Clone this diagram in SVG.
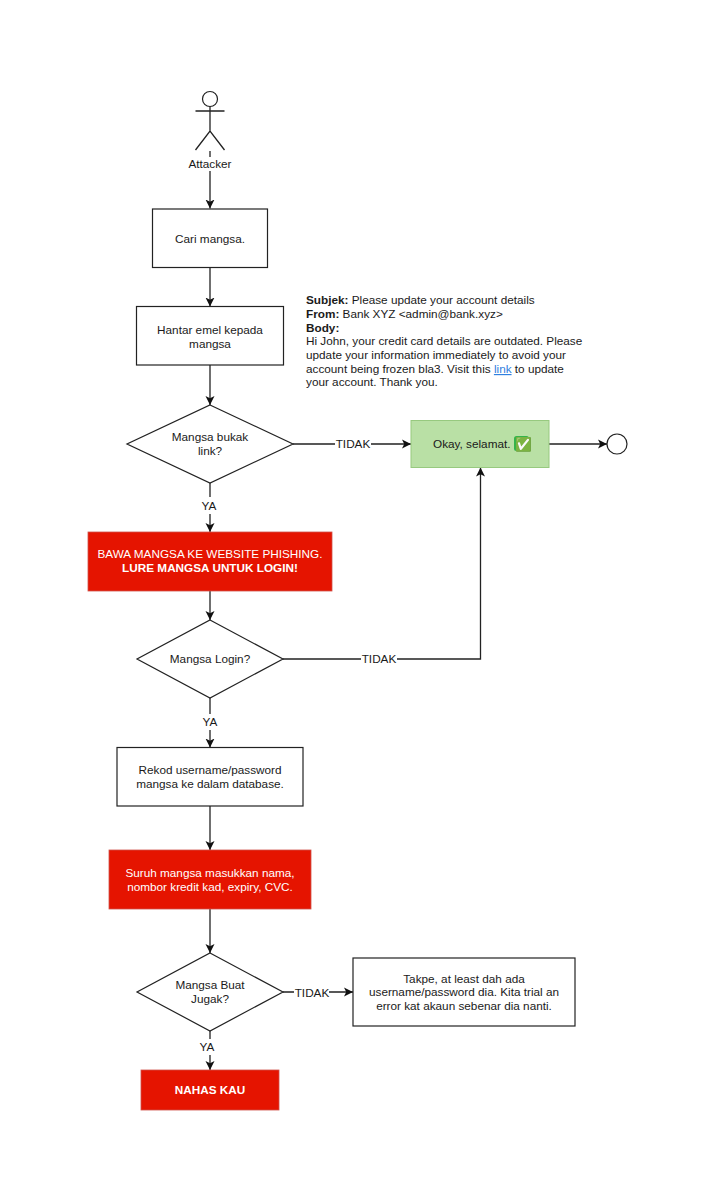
<svg xmlns="http://www.w3.org/2000/svg" width="714" height="1200" viewBox="0 0 714 1200">
<style>
text{font-family:"Liberation Sans",Arial,sans-serif;font-size:11.750px;fill:#1a1a1a}
.c{text-anchor:middle}
.w{fill:#fff}
.b{font-weight:700}
.s{fill:#fff;stroke:#222;stroke-width:1.200}
.r{fill:#e51400;stroke:#d0524a;stroke-width:.8}
.l{fill:none;stroke:#222;stroke-width:1.300}
</style>
<defs>
<marker id="a" markerUnits="userSpaceOnUse" markerWidth="12" markerHeight="12" refX="9" refY="5.500" orient="auto">
<path d="M0 1L9 5.500L0 10L2.200 5.500Z" fill="#111"/>
</marker>
</defs>
<rect width="714" height="1200" fill="#fff"/>
<g id="connectors">
<path class="l" d="M210 151V157M210 171V208.500" marker-end="url(#a)"/>
<path class="l" d="M210 267.500V306.500" marker-end="url(#a)"/>
<path class="l" d="M210 365V405" marker-end="url(#a)"/>
<path class="l" d="M293 444H335M371 444H411" marker-end="url(#a)"/>
<path class="l" d="M549 444H607" marker-end="url(#a)"/>
<path class="l" d="M210 483V497M210 514V532" marker-end="url(#a)"/>
<path class="l" d="M210 591V620" marker-end="url(#a)"/>
<path class="l" d="M283 659H361M397 659H480.500V467.500" marker-end="url(#a)"/>
<path class="l" d="M210 698V714M210 730V747.500" marker-end="url(#a)"/>
<path class="l" d="M210 806V850" marker-end="url(#a)"/>
<path class="l" d="M210 909V953" marker-end="url(#a)"/>
<path class="l" d="M283 992H294M329 992H353" marker-end="url(#a)"/>
<path class="l" d="M210 1031V1039M210 1055V1070" marker-end="url(#a)"/>
<text class="c" x="353" y="448">TIDAK</text>
<text class="c" x="379" y="663">TIDAK</text>
<text class="c" x="312" y="997">TIDAK</text>
<text class="c" x="209" y="510">YA</text>
<text class="c" x="210" y="726">YA</text>
<text class="c" x="207" y="1051">YA</text>
</g>
<g id="attacker">
<circle class="s" cx="210" cy="99" r="7.500"/>
<path class="l" d="M210 106.500V131M195.500 111H224.500M195.500 150L210 131L224.500 150" stroke-width="1.100"/>
<text class="c" x="210" y="168">Attacker</text>
</g>
<g id="cari"><rect class="s" x="152.500" y="209" width="115" height="58.500"/><text class="c" x="210" y="243">Cari mangsa.</text></g>
<g id="hantar"><rect class="s" x="136.500" y="306.500" width="147" height="58.500"/><text class="c" x="210" y="334">Hantar emel kepada</text><text class="c" x="210" y="348">mangsa</text></g>
<g id="email">
<text x="306" y="304"><tspan class="b">Subjek:</tspan> Please update your account details</text>
<text x="306" y="318"><tspan class="b">From:</tspan> Bank XYZ &lt;admin@bank.xyz&gt;</text>
<text class="b" x="306" y="332">Body:</text>
<text x="306" y="345">Hi John, your credit card details are outdated. Please</text>
<text x="306" y="359">update your information immediately to avoid your</text>
<text x="306" y="373">account being frozen bla3. Visit this <tspan fill="#2f80e0" text-decoration="underline">link</tspan> to update</text>
<text x="306" y="386">your account. Thank you.</text>
</g>
<g id="bukak"><polygon class="s" points="210,405 293,444 210,483 127,444"/><text class="c" x="210" y="441">Mangsa bukak</text><text class="c" x="210" y="455">link?</text></g>
<g id="okay"><rect x="411" y="420.500" width="138" height="47" fill="#b9e0a5" stroke="#97c97f" stroke-width="1"/><text x="433" y="448">Okay, selamat.</text><rect x="514" y="436" width="15" height="15" rx="2.500" fill="#35b34a"/><text x="514.500" y="449" fill="#fff" style="fill:#fff;font-family:'DejaVu Sans',sans-serif;font-size:13.500px">✅</text></g>
<g id="end"><circle class="s" cx="617" cy="444" r="10"/></g>
<g id="bawa"><rect class="r" x="88" y="532" width="244" height="59"/><text class="c w" x="210" y="558">BAWA MANGSA KE WEBSITE PHISHING.</text><text class="c w b" x="210" y="572">LURE MANGSA UNTUK LOGIN!</text></g>
<g id="login"><polygon class="s" points="210,620 283,659 210,698 137,659"/><text class="c" x="210" y="663">Mangsa Login?</text></g>
<g id="rekod"><rect class="s" x="117" y="747.500" width="186" height="58.500"/><text class="c" x="210" y="774">Rekod username/password</text><text class="c" x="210" y="788">mangsa ke dalam database.</text></g>
<g id="suruh"><rect class="r" x="109" y="850" width="202" height="59"/><text class="c w" x="210" y="877">Suruh mangsa masukkan nama,</text><text class="c w" x="210" y="891">nombor kredit kad, expiry, CVC.</text></g>
<g id="buat"><polygon class="s" points="210,953 283,992 210,1031 137,992"/><text class="c" x="210" y="989">Mangsa Buat</text><text class="c" x="210" y="1003">Jugak?</text></g>
<g id="takpe"><rect class="s" x="353" y="958" width="222" height="68"/><text class="c" x="464" y="983">Takpe, at least dah ada</text><text class="c" x="464" y="996">username/password dia. Kita trial an</text><text class="c" x="464" y="1010">error kat akaun sebenar dia nanti.</text></g>
<g id="nahas"><rect class="r" x="141" y="1070" width="138" height="40"/><text class="c w b" x="210" y="1094">NAHAS KAU</text></g>
</svg>
